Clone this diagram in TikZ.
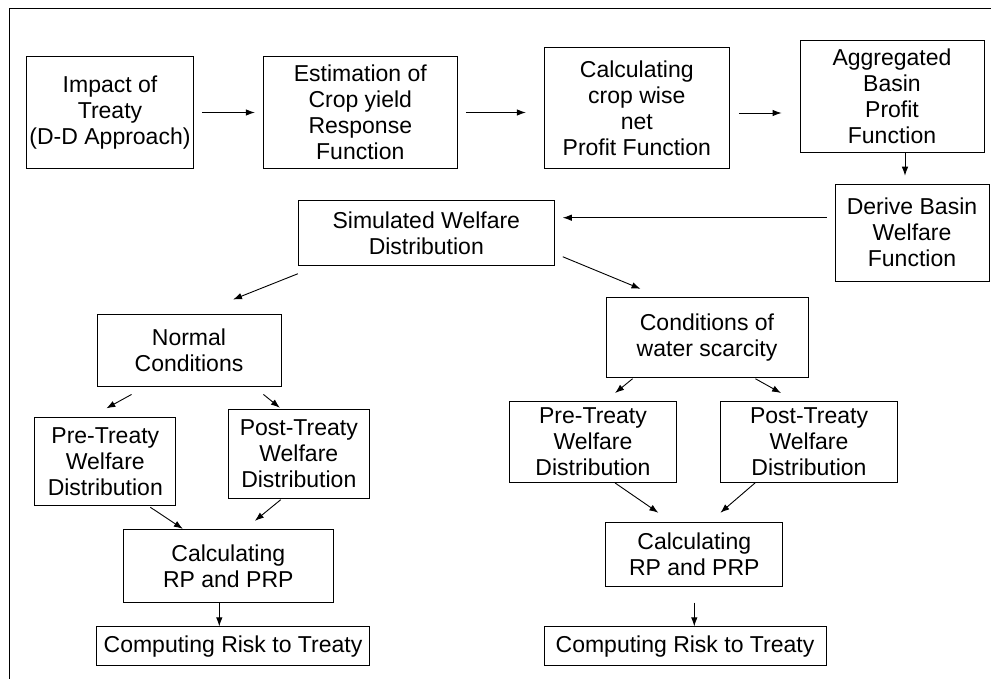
\documentclass[tikz,border=0pt]{standalone}
\usepackage{fontspec}
\setmainfont{Liberation Sans}
\usetikzlibrary{arrows.meta}
\begin{document}
\begin{tikzpicture}[x=1pt,y=-1pt,line width=.9pt,>={Latex[length=9pt,width=6.5pt]},
  box/.style 2 args={draw,inner sep=0pt,align=center,minimum width=#1,minimum height=#2,font=\fontsize{23}{26}\selectfont}]
      \useasboundingbox (0,0) rectangle (991,679);
      \draw (9,679) -- (9,8.5) -- (991,8.5);
      \node[box={167pt}{112pt}] (impact) at (110,112.5) {Impact of\\Treaty\\(D-D Approach)};
      \node[box={194pt}{112pt}] (est) at (360.3,112.5) {Estimation of\\Crop yield\\Response\\Function};
      \node[box={185pt}{121pt}] (crop) at (636.8,108) {Calculating\\crop wise\\net\\Profit Function};
      \node[box={184pt}{112pt}] (aggr) at (892,96.5) {Aggregated\\Basin\\Profit\\Function};
      \node[box={154pt}{97pt}] (derive) at (912,232.7) {Derive Basin\\Welfare\\Function};
      \node[box={256pt}{65pt}] (simul) at (426.3,232.8) {Simulated Welfare\\Distribution};
      \node[box={184pt}{72pt}] (normal) at (189,350) {Normal\\Conditions};
      \node[box={202pt}{80pt}] (cond) at (707,337.3) {Conditions of\\water scarcity};
      \node[box={141pt}{88pt}] (preL) at (105.3,461.8) {Pre-Treaty\\Welfare\\Distribution};
      \node[box={141pt}{89pt}] (postL) at (298.8,453.7) {Post-Treaty\\Welfare\\Distribution};
      \node[box={167pt}{81pt}] (preR) at (593,442) {Pre-Treaty\\Welfare\\Distribution};
      \node[box={177pt}{81pt}] (postR) at (809,442) {Post-Treaty\\Welfare\\Distribution};
      \node[box={210pt}{73pt}] (calcL) at (228.3,565.8) {Calculating\\RP and PRP};
      \node[box={177pt}{64pt}] (calcR) at (694.3,554.2) {Calculating\\RP and PRP};
      \node[box={273pt}{39pt}] (riskL) at (233,646.3) {Computing Risk to Treaty};
      \node[box={282pt}{39pt}] (riskR) at (685,646.3) {Computing Risk to Treaty};
      \draw[->,shorten <=8pt,shorten >=8pt] (impact) -- (est);
      \draw[->,shorten <=8pt,shorten >=18pt] (est) -- (est -| crop.west);
      \draw[->,shorten <=9pt,shorten >=18pt] ([yshift=-5pt]crop.east) -- ([yshift=-5pt]crop.east -| aggr.west);
      \draw[->,shorten >=8pt] ([xshift=13pt]aggr.south) -- ([xshift=13pt]aggr.south |- derive.north);
      \draw[->,shorten <=8pt,shorten >=8pt] ([yshift=15pt]derive.west) -- ([yshift=15pt]derive.west -| simul.east);
      \draw[->] ([yshift=-8pt]simul.south west) -- ([xshift=44pt,yshift=14pt]normal.north);
      \draw[->] ([xshift=8pt,yshift=9pt]simul.south east) -- ([xshift=35pt,yshift=8pt]cond.north west);
      \draw[->] ([xshift=35pt,yshift=-8pt]normal.south west) -- ([xshift=1pt,yshift=9pt]preL.north);
      \draw[->] ([xshift=-18pt,yshift=-8pt]normal.south east) -- ([xshift=52pt,yshift=1pt]postL.north west);
      \draw[->] ([xshift=45pt,yshift=-1pt]preL.south) -- ([xshift=60pt]calcL.north west);
      \draw[->] ([xshift=-18pt,yshift=-1pt]postL.south) -- ([xshift=132pt,yshift=8pt]calcL.north west);
      \draw[->] ([xshift=-9pt]calcL.south) -- ([xshift=-9pt]calcL.south |- riskL.north);
      \draw[->] ([xshift=27pt,yshift=-1pt]cond.south west) -- ([xshift=106pt,yshift=8pt]preR.north west);
      \draw[->] ([xshift=-53pt,yshift=-1pt]cond.south east) -- ([xshift=61pt,yshift=8pt]postR.north west);
      \draw[->] ([xshift=106pt]preR.south west) -- ([xshift=53pt,yshift=9pt]calcR.north west);
      \draw[->] ([xshift=35pt]postR.south west) -- ([xshift=115pt,yshift=9pt]calcR.north west);
      \draw[->] ([yshift=-16pt]calcR.south) -- (calcR.south |- riskR.north);
    \end{tikzpicture}
\end{document}
